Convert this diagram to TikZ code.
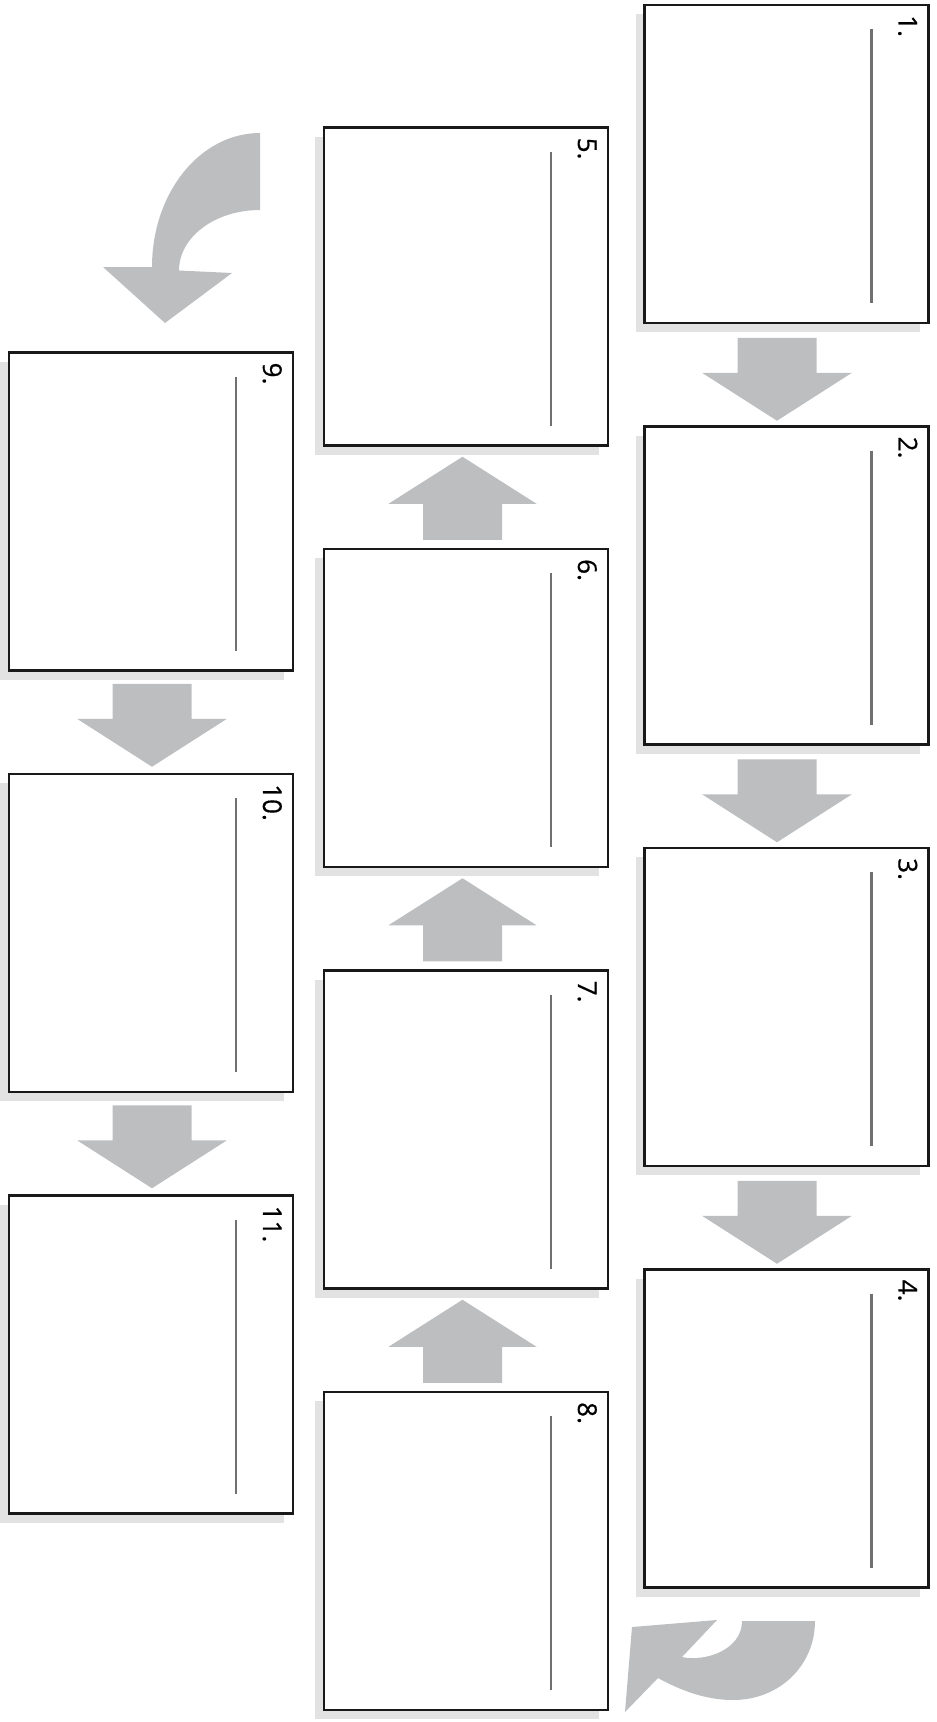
\documentclass[tikz,border=0pt]{standalone}
\usepackage{fontspec}
\newfontfamily\labfont[FakeBold=0.6]{Open Sans}
\usetikzlibrary{calc,shadows}
\definecolor{arrgray}{HTML}{BCBEC0}
\definecolor{shgray}{HTML}{E2E2E2}
\definecolor{rulegray}{HTML}{707070}
\begin{document}
\begin{tikzpicture}[x=1pt,y=-1pt,
  box/.style={draw=black!90, line width=2.5pt, fill=white, minimum width=284pt, minimum height=318pt,
    inner sep=0pt, outer sep=0pt,
    drop shadow={shadow xshift=-9pt, shadow yshift=-9pt, fill=shgray, draw=none, opacity=1}},
  rulel/.style={draw=rulegray, line width=2.2pt},
  lab/.style={font=\labfont\fontsize{26}{28}\selectfont, rotate=-90, anchor=base west, inner sep=0pt},
  downarr/.pic={\fill[arrgray] (-39.5,-41.5) -- (39.5,-41.5) -- (39.5,-6.5) -- (75,-6.5) -- (0,41.5) -- (-75,-6.5) -- (-39.5,-6.5) -- cycle;},
  uparr/.pic={\fill[arrgray] (-39.5,41.5) -- (39.5,41.5) -- (39.5,5.5) -- (74,5.5) -- (0,-41.5) -- (-74,5.5) -- (-39.5,5.5) -- cycle;}
]
\useasboundingbox (0,0) rectangle (937,1722);

% boxes
\foreach \n/\x/\y in {1/786.5/164, 2/786.5/585.5, 3/786.5/1007, 4/786.5/1428.5,
                      5/466/286.5, 6/466/708, 7/466/1129.5, 8/466/1551,
                      9/151/511.5, 10/151/933, 11/151/1354.5}
  \node[box] (b\n) at (\x,\y) {};

% writing lines and numbers
\foreach \n in {1,...,11} {
  \draw[rulel] ([xshift=227pt,yshift=-24pt]b\n.north west) -- ([xshift=227pt,yshift=20pt]b\n.south west);
  \node[lab] (l\n) at ([xshift=-30pt,yshift=-10pt]b\n.north east) {\n.};
}

% straight block arrows
\pic at ($(b1.south)!0.5!(b2.north) + (-9.5,4.5)$) {downarr};
\pic at ($(b2.south)!0.5!(b3.north) + (-9.5,4.5)$) {downarr};
\pic at ($(b3.south)!0.5!(b4.north) + (-9.5,4.5)$) {downarr};
\pic at ($(b8.north)!0.5!(b7.south) + (-3.5,1)$) {uparr};
\pic at ($(b7.north)!0.5!(b6.south) + (-3.5,1)$) {uparr};
\pic at ($(b6.north)!0.5!(b5.south) + (-3.5,1)$) {uparr};
\pic at ($(b9.south)!0.5!(b10.north) + (1,3)$) {downarr};
\pic at ($(b10.south)!0.5!(b11.north) + (1,3)$) {downarr};

% curved arrow at top (towards box 9)
\fill[arrgray] (260,133) .. controls (200,133) and (152,193) .. (152,267)
  -- (103,267) -- (165,323) -- (232,273) -- (179,270.5)
  .. controls (179,237) and (215,210) .. (260,210) -- cycle;

% curved arrow at bottom (from box 4 towards box 8)
\fill[arrgray] (815,1621) .. controls (815,1665) and (780,1700) .. (733,1700)
  .. controls (705,1700) and (680,1690) .. (658,1678)
  -- (625,1712) -- (632,1627) -- (717,1620) -- (682,1657)
  .. controls (705,1662) and (742,1650) .. (742,1621) -- cycle;
\end{tikzpicture}
\end{document}
